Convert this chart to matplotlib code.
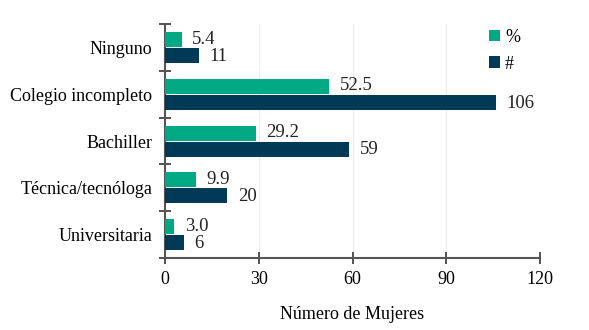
import numpy as np
from matplotlib import pyplot as plt

# data
categories = ["Ninguno", "Colegio incompleto", "Bachiller", "Técnica/tecnóloga", "Universitaria"]
pct = [5.4, 52.5, 29.2, 9.9, 3.0]
count = [11, 106, 59, 20, 6]
pct_labels = ["5.4", "52.5", "29.2", "9.9", "3.0"]
count_labels = ["11", "106", "59", "20", "6"]
xticks = [0, 30, 60, 90, 120]

GREEN = "#00a884"
NAVY = "#003a57"

plt.rcParams['font.family'] = ['Liberation Serif', 'DejaVu Serif']

fig = plt.figure(figsize=(5.89, 3.30), dpi=100)
ax = fig.add_axes([0.280, 0.218, 0.637, 0.709])

y = np.arange(len(categories))
h = 0.32
ax.barh(y - h / 2 - 0.01, pct, height=h, color=GREEN, label="%", zorder=3)
ax.barh(y + h / 2 + 0.01, count, height=h, color=NAVY, label="#", zorder=3)

for yi, v, s in zip(y, pct, pct_labels):
    ax.text(v + 3.3, yi - h / 2 - 0.02, s, va="center", ha="left", fontsize=13.5, color="#222222")
for yi, v, s in zip(y, count, count_labels):
    ax.text(v + 3.3, yi + h / 2 + 0.03, s, va="center", ha="left", fontsize=13.5, color="#222222")

ax.set_ylim(4.5, -0.5)
ax.set_xlim(0, 120)
ax.set_xticks(xticks)
ax.set_yticks(y)
ax.set_yticklabels(categories, fontsize=13)
ax.set_yticks(np.arange(-0.5, 5, 1), minor=True)
ax.tick_params(axis="y", which="major", length=0, pad=9)
ax.tick_params(axis="y", which="minor", length=8, direction="inout", width=1.3, color="#444444")
ax.tick_params(axis="x", length=8, direction="inout", width=1.3, color="#444444", labelsize=13, pad=5)
ax.grid(axis="x", color="#ececec", linewidth=0.8, zorder=0)

for s in ["top", "right"]:
    ax.spines[s].set_visible(False)
for s in ["left", "bottom"]:
    ax.spines[s].set_color("#555555")
    ax.spines[s].set_linewidth(1.5)

ax.set_xlabel("Número de Mujeres", fontsize=13, labelpad=13)

ax.legend(loc="upper right", bbox_to_anchor=(0.99, 1.05), frameon=False, fontsize=13,
          handlelength=0.6, handleheight=0.6, handletextpad=0.3, labelspacing=0.55)

fig.savefig("out.png", dpi=100)
